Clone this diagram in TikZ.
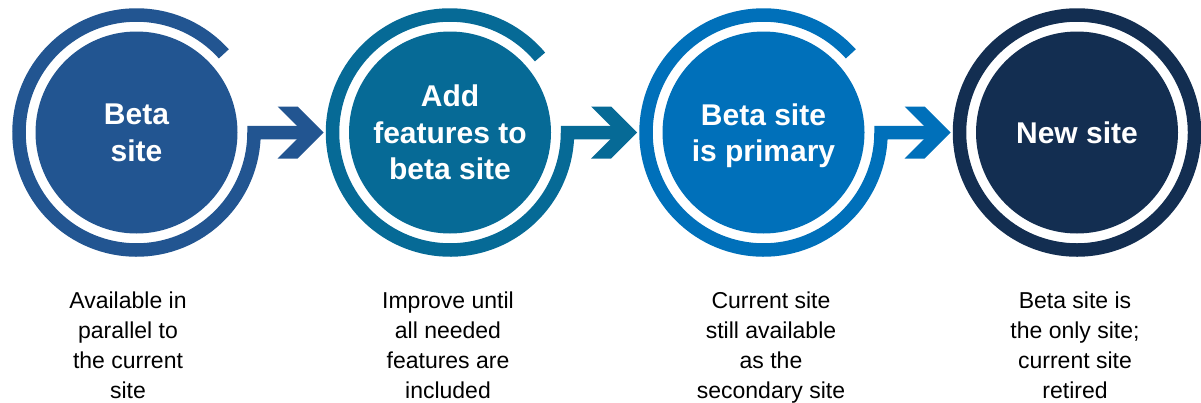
\documentclass[tikz,border=0pt]{standalone}
\usepackage{fontspec}
\setmainfont{Liberation Sans}
\usepackage{tikz}
\usetikzlibrary{calc}

\definecolor{siteA}{RGB}{34,85,145}
\definecolor{siteB}{RGB}{6,106,150}
\definecolor{siteC}{RGB}{0,112,186}
\definecolor{siteD}{RGB}{19,46,81}

\tikzset{
  site/.style={circle,minimum size=202pt,inner sep=0pt,text=white,align=center,
    font=\fontsize{30}{36.7}\selectfont\bfseries},
  ring/.style={line width=13.5pt,line join=miter},
  note/.style={anchor=north,inner sep=0pt,align=center,text=black,
    font=\fontsize{23}{30}\selectfont}
}

\begin{document}
\begin{tikzpicture}[x=1pt,y=1pt]
            \useasboundingbox (0,0) rectangle (1201,-402);

            \node[site,fill=siteA] (s_1) at (136.5,-132.5) {Beta\\site};
            \node[site,fill=siteB] (s_2) at (450,-132.5) {Add\\features to\\beta site};
            \node[site,fill=siteC] (s_3) at (763.5,-132.5) {Beta site\\\smash{is primary}};
            \node[site,fill=siteD] (s_4) at (1077,-132.5) {New site};

            \draw[ring,siteA] (s_1.center) ++(42:117.5pt) arc (42:360:117.5pt) -- ++(52,0);
            \fill[siteA] ($(s_1.center)+(141,26)$) -- ++(20,0) -- ++(26,-26) -- ++(-26,-26)
                -- ++(-20,0) -- ++(26,26) -- cycle;

            \draw[ring,siteB] (s_2.center) ++(40:117.5pt) arc (40:360:117.5pt) -- ++(52,0);
            \fill[siteB] ($(s_2.center)+(141,26)$) -- ++(20,0) -- ++(26,-26) -- ++(-26,-26)
                -- ++(-20,0) -- ++(26,26) -- cycle;

            \draw[ring,siteC] (s_3.center) ++(42:117.5pt) arc (42:360:117.5pt) -- ++(52,0);
            \fill[siteC] ($(s_3.center)+(141,26)$) -- ++(20,0) -- ++(26,-26) -- ++(-26,-26)
                -- ++(-20,0) -- ++(26,26) -- cycle;

            \draw[ring,siteD] (s_4.center) circle (117.5pt);

            \node[note] (n_1) at (128,-291.5) {Available in\\parallel to\\the current\\site};
            \node[note] (n_2) at (448,-291.5) {Improve until\\all needed\\features are\\included};
            \node[note] (n_3) at (771,-291.5) {Current site\\still available\\as the\\secondary site};
            \node[note] (n_4) at (1075,-291.5) {Beta site is\\the only site;\\current site\\retired};
\end{tikzpicture}
\end{document}
